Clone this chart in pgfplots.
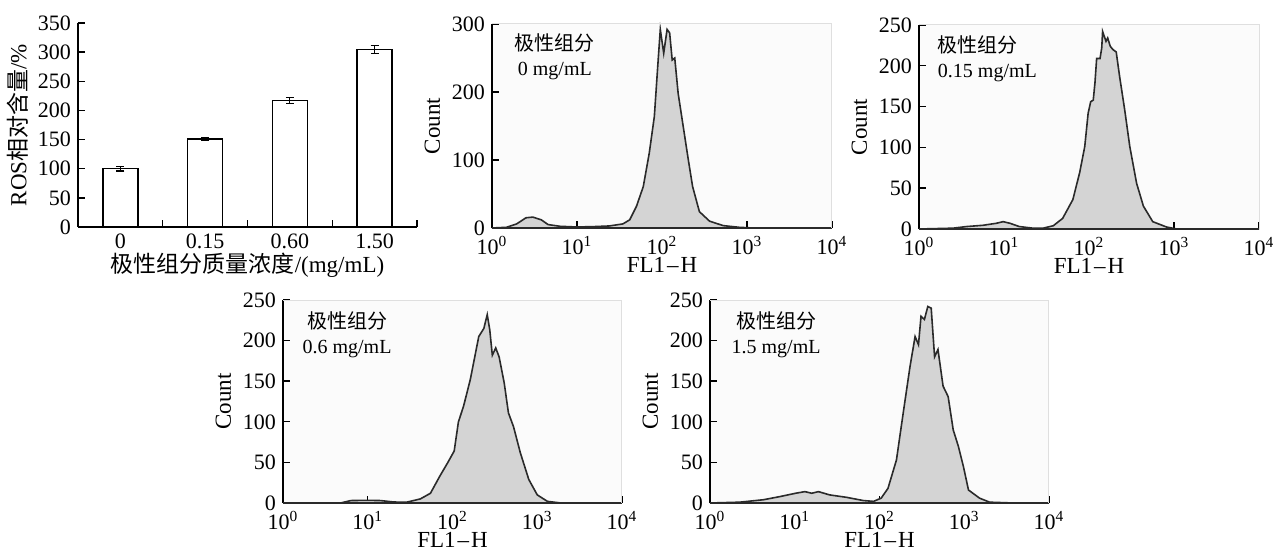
\documentclass[border=0pt]{standalone}
\usepackage{pgfplots}
\pgfplotsset{compat=1.18}
\usepackage{fontspec}
\setmainfont{Liberation Serif}
\newfontfamily\cjk{Noto Sans CJK SC}
\definecolor{histfill}{HTML}{D4D4D4}
\definecolor{histline}{HTML}{2A2A2A}
\pgfplotsset{
  myaxis/.style={
    scale only axis, anchor=south west,
    axis x line*=bottom, axis y line*=left,
    xtick pos=bottom, ytick pos=left,
    tick align=inside,
    major tick length=3.5pt,
    axis line style={line width=0.6pt, black},
    every tick/.style={line width=0.7pt, black},
    font=\fontsize{11.5}{13}\selectfont,
    tick label style={font=\fontsize{11}{12}\selectfont},
    /pgf/number format/assume math mode=true,
    clip=false,
  },
  histaxis/.style={
    myaxis,
    width=170pt, height=102pt,
    xmin=0, xmax=4, ymin=0,
    xtick={0,1,2,3,4},
    xticklabels={10\textsuperscript{0},10\textsuperscript{1},10\textsuperscript{2},10\textsuperscript{3},10\textsuperscript{4}},
    xticklabel style={yshift=-0.5pt},
    xlabel={FL1\kern1pt--\kern1pt H},
    ylabel={Count},
    xlabel style={yshift=5.5pt},
    ylabel style={yshift=-1pt},
    axis background/.style={fill=gray!3},
  },
  histplot/.style={fill=histfill, draw=histline, line width=0.8pt},
}
\begin{document}
\begin{tikzpicture}
\path[use as bounding box] (0,0) rectangle (637.5pt,275.5pt);

% Bar chart
\begin{axis}[myaxis, at={(39pt,162pt)},
  width=169.5pt, height=102pt,
  xmin=-0.5, xmax=3.5, ymin=0, ymax=350,
  ytick={0,50,...,350},
  xtick={0.5,1.5,2.5,3.5}, xticklabels={},
  extra x ticks={0,1,2,3}, extra x tick labels={0,0.15,0.60,1.50},
  extra x tick style={major tick length=0pt},
  ylabel={ROS{\cjk 相对含量}/\%},
  xlabel={{\cjk 极性组分质量浓度}/(mg/mL)},
  xlabel style={yshift=5pt},
  ylabel style={yshift=-2pt},
]
\addplot[ybar, bar width=17.5pt, fill=white, draw=black, line width=0.7pt,
  error bars/.cd, y dir=both, y explicit,
  error bar style={line width=0.6pt, black},
  error mark options={rotate=90, mark size=2pt, line width=0.6pt, black}]
coordinates {(0,100) +- (0,4) (1,151) +- (0,2.5) (2,217) +- (0,4.5) (3,305) +- (0,7)};
\end{axis}

% Histogram 1
\begin{axis}[histaxis, at={(246pt,161.5pt)}, ymax=300, ytick={0,100,200,300}]
\addplot[histplot] coordinates {
(0,0) (0.17,1) (0.29,6) (0.40,15) (0.48,16) (0.58,12) (0.66,5) (0.80,2.5) (0.99,1.5)
(1.19,2) (1.38,3) (1.54,6) (1.62,12) (1.70,32) (1.78,61) (1.85,110) (1.91,164)
(1.95,238) (1.98,292) (2.02,257) (2.06,292) (2.09,287) (2.12,247) (2.15,250)
(2.19,198) (2.25,149) (2.31,100) (2.36,61) (2.44,24) (2.56,10) (2.72,3.5)
(2.91,1) (3.07,0) (4,0)} \closedcycle;
\draw[gray!25, line width=0.5pt] (rel axis cs:0,1) -- (rel axis cs:1,1) -- (rel axis cs:1,0);
\node[align=center, font=\fontsize{10}{12.5}\selectfont] at (rel axis cs:0.185,0.838) {{\cjk 极性组分}\\0 mg/mL};
\end{axis}

% Histogram 2
\begin{axis}[histaxis, at={(459.5pt,161pt)}, ymax=250, ytick={0,50,...,250}]
\addplot[histplot] coordinates {
(0,0) (0.40,1) (0.56,3) (0.75,4.5) (0.91,7) (0.99,9) (1.07,7) (1.18,3) (1.34,1)
(1.46,1) (1.58,4) (1.69,13) (1.81,36) (1.89,69) (1.95,101) (1.99,142) (2.02,156)
(2.05,158) (2.07,179) (2.09,209) (2.13,209) (2.15,222) (2.16,242) (2.20,230)
(2.22,234) (2.25,224) (2.28,220) (2.32,217) (2.36,187) (2.42,146) (2.48,101)
(2.56,56) (2.64,28) (2.75,9) (2.91,2.5) (3.03,0) (4,0)} \closedcycle;
\draw[gray!25, line width=0.5pt] (rel axis cs:0,1) -- (rel axis cs:1,1) -- (rel axis cs:1,0);
\node[align=left, anchor=west, font=\fontsize{10}{12.5}\selectfont] at (rel axis cs:0.035,0.833) {{\cjk 极性组分}\\0.15 mg/mL};
\end{axis}

% Histogram 3
\begin{axis}[histaxis, at={(141.5pt,24pt)}, width=169.5pt, height=101.5pt, ymax=250, ytick={0,50,...,250}]
\addplot[histplot] coordinates {
(0,0) (0.68,0) (0.80,3) (0.99,3.3) (1.15,3) (1.31,1.2) (1.46,1) (1.62,5) (1.74,12)
(1.85,33) (1.94,49) (2.02,64) (2.07,100) (2.13,119) (2.21,152) (2.31,205) (2.37,215)
(2.41,232) (2.44,213) (2.47,182) (2.51,191) (2.55,180) (2.61,148) (2.66,111)
(2.72,94) (2.80,62) (2.90,29) (3.00,10) (3.12,2) (3.28,0) (4,0)} \closedcycle;
\draw[gray!25, line width=0.5pt] (rel axis cs:0,1) -- (rel axis cs:1,1) -- (rel axis cs:1,0);
\node[align=center, font=\fontsize{10}{12.5}\selectfont] at (rel axis cs:0.189,0.83) {{\cjk 极性组分}\\0.6 mg/mL};
\end{axis}

% Histogram 4
\begin{axis}[histaxis, at={(355pt,24pt)}, width=169.5pt, height=101.5pt, ymax=250, ytick={0,50,...,250}]
\addplot[histplot] coordinates {
(0,0) (0.35,1) (0.63,4) (0.83,8) (1.01,12) (1.12,14) (1.20,12) (1.28,14) (1.41,10)
(1.61,7) (1.81,3) (1.93,2) (2.02,6) (2.10,18) (2.20,53) (2.28,111) (2.36,168)
(2.42,205) (2.46,195) (2.49,230) (2.53,226) (2.57,242) (2.61,240) (2.65,180)
(2.69,189) (2.75,144) (2.81,131) (2.87,90) (2.93,70) (2.99,45) (3.05,16) (3.18,6)
(3.30,1) (3.58,0) (4,0)} \closedcycle;
\draw[gray!25, line width=0.5pt] (rel axis cs:0,1) -- (rel axis cs:1,1) -- (rel axis cs:1,0);
\node[align=center, font=\fontsize{10}{12.5}\selectfont] at (rel axis cs:0.195,0.83) {{\cjk 极性组分}\\1.5 mg/mL};
\end{axis}
\end{tikzpicture}
\end{document}
